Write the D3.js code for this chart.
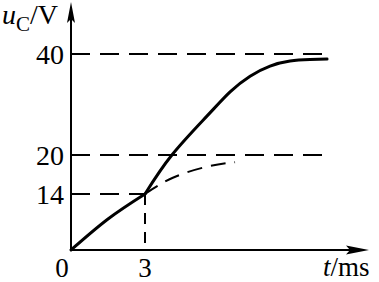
<!DOCTYPE html>
<html>
<head>
<meta charset="utf-8">
<script src="https://cdn.jsdelivr.net/npm/d3@7"></script>
<style>
  body { margin: 0; background: #fff; }
</style>
</head>
<body>
<svg width="379" height="282" font-family="'Liberation Serif', 'Times New Roman', Times, serif"></svg>
<script>
// values (t in ms, u in V)
var yTicks = [14, 20, 40];
var xTicks = [0, 3];
var rise1 = [[0, 0], [1.5, 7.75], [3, 14]];
var rise2 = [[3, 14], [4.09, 20], [5.51, 27.7], [6.45, 32.5], [7.26, 35.6], [8.07, 37.6], [8.88, 38.6], [9.69, 38.9], [10.38, 39.0]];
var noSwitch = [[3, 14], [4.13, 16.5], [5.51, 18.2], [6.65, 18.9]];
var levels = [{u: 40, tEnd: 10.4}, {u: 20, tEnd: 10.35}, {u: 14, tEnd: 3}];
var tSwitch = 3;

var svg = d3.select("svg");

// axes in the figure are not to scale, so the y scale is piecewise
var x = d3.scaleLinear().domain([0, 3]).range([71, 145]);
var y = d3.scaleLinear().domain([0, 14, 20, 40]).range([250, 194, 155, 54]);

var line = d3.line()
    .x(function(d) { return x(d[0]); })
    .y(function(d) { return y(d[1]); })
    .curve(d3.curveNatural);

// dashed guide lines
svg.append("g").selectAll("line")
  .data(levels)
  .enter().append("line")
    .attr("x1", x(0))
    .attr("x2", function(d) { return x(d.tEnd); })
    .attr("y1", function(d) { return y(d.u); })
    .attr("y2", function(d) { return y(d.u); })
    .attr("stroke", "#000")
    .attr("stroke-width", 2)
    .attr("stroke-dasharray", "19,10");

svg.append("line")
    .attr("x1", x(tSwitch)).attr("x2", x(tSwitch))
    .attr("y1", y(14)).attr("y2", y(0))
    .attr("stroke", "#000")
    .attr("stroke-width", 2)
    .attr("stroke-dasharray", "11,8");

// dashed curve (without switching)
svg.append("path")
    .attr("d", line(noSwitch))
    .attr("fill", "none")
    .attr("stroke", "#000")
    .attr("stroke-width", 2)
    .attr("stroke-dasharray", "15,9");

// solid u_C curve
[rise1, rise2].forEach(function(seg) {
  svg.append("path")
      .attr("d", line(seg))
      .attr("fill", "none")
      .attr("stroke", "#000")
      .attr("stroke-width", 3)
      .attr("stroke-linecap", "round");
});

// axes with arrows
svg.append("line")
    .attr("x1", x(0)).attr("x2", x(0))
    .attr("y1", y(0)).attr("y2", 8)
    .attr("stroke", "#000").attr("stroke-width", 2);
svg.append("line")
    .attr("x1", x(0)).attr("x2", 362)
    .attr("y1", y(0)).attr("y2", y(0))
    .attr("stroke", "#000").attr("stroke-width", 2);

svg.append("path")
    .attr("d", "M71,2 L75,23 L71,19 L67,23 Z")
    .attr("fill", "#000");
svg.append("path")
    .attr("d", "M369,250 L346,245.5 L350,250 L346,254.5 Z")
    .attr("fill", "#000");

// tick labels
svg.append("g").selectAll("text")
  .data(yTicks)
  .enter().append("text")
    .attr("x", 64)
    .attr("y", function(d) { return y(d) + 10; })
    .attr("text-anchor", "end")
    .attr("font-size", 28)
    .text(function(d) { return d; });

svg.append("g").selectAll("text")
  .data(xTicks)
  .enter().append("text")
    .attr("x", function(d) { return d === 0 ? 62 : x(d); })
    .attr("y", 277)
    .attr("text-anchor", "middle")
    .attr("font-size", 27)
    .text(function(d) { return d; });

// axis titles
var yt = svg.append("text").attr("x", 2).attr("y", 24).attr("font-size", 28);
yt.append("tspan").attr("font-style", "italic").text("u");
yt.append("tspan").attr("font-size", 21).attr("dy", 7).text("C");
yt.append("tspan").attr("dy", -7).text("/V");

var xt = svg.append("text").attr("x", 323).attr("y", 276).attr("font-size", 27);
xt.append("tspan").attr("font-style", "italic").text("t");
xt.append("tspan").text("/ms");
</script>
</body>
</html>
